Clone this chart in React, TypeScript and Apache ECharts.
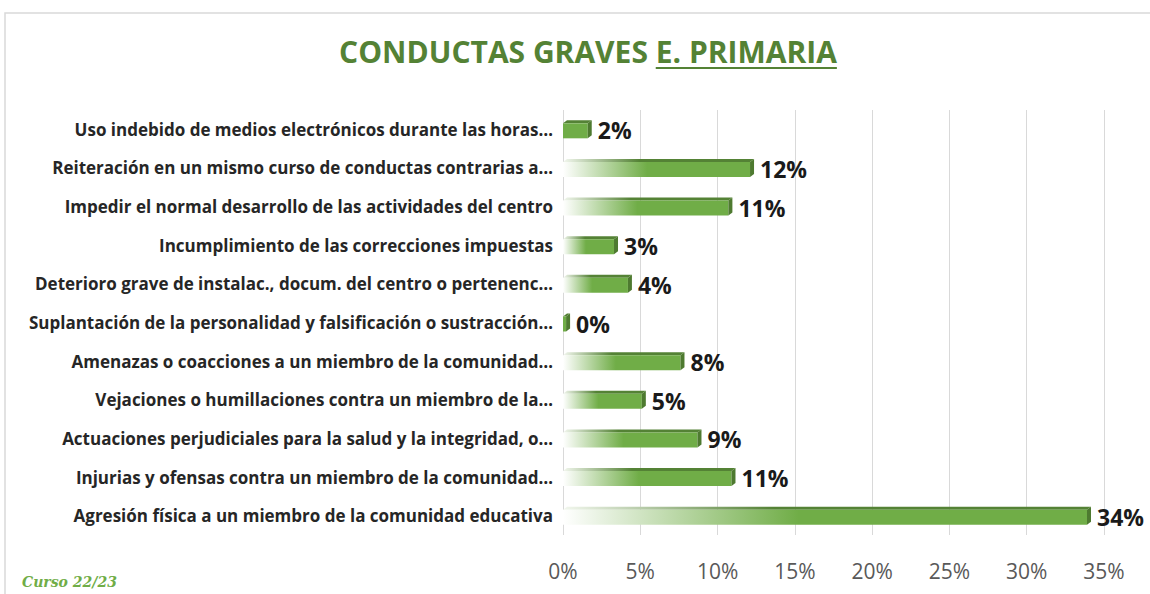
import React, { useEffect, useRef } from "react";
import * as echarts from "echarts";

const categories = [
  "Uso indebido de medios electrónicos durante las horas…",
  "Reiteración en un mismo curso de conductas contrarias a…",
  "Impedir el normal desarrollo de las actividades del centro",
  "Incumplimiento de las correcciones impuestas",
  "Deterioro grave de instalac., docum. del centro o pertenenc…",
  "Suplantación de la personalidad y falsificación o sustracción…",
  "Amenazas o coacciones a un miembro de la comunidad…",
  "Vejaciones o humillaciones contra un miembro de la…",
  "Actuaciones perjudiciales para la salud y la integridad, o…",
  "Injurias y ofensas contra un miembro de la comunidad…",
  "Agresión física a un miembro de la comunidad educativa",
];
const values = [1.6, 12.1, 10.7, 3.3, 4.2, 0.2, 7.6, 5.1, 8.7, 10.9, 33.9];
const titleMain = "CONDUCTAS GRAVES ";
const titleUnder = "E. PRIMARIA";
const footnote = "Curso 22/23";

const FONT = '"Open Sans"';
const GREEN = "#70AD47";
const DARK = "#548235";
const SIDE = "#4E7A30";

function measure(text: string, font: string): number {
  const c = document.createElement("canvas").getContext("2d");
  if (!c) return text.length * 15;
  c.font = font;
  return c.measureText(text).width;
}

export default function App() {
  const ref = useRef<HTMLDivElement>(null);
  useEffect(() => {
    if (!ref.current) return;
    const chart = echarts.init(ref.current, undefined, { renderer: "svg" });
    const titleFont = `bold 30px ${FONT}`;
    const w1 = measure(titleMain, titleFont);
    const w2 = measure(titleUnder, titleFont);
    const titleLeft = 588 - (w1 + w2) / 2;
    const titleY = 51;

    chart.setOption({
      animation: false,
      backgroundColor: "#ffffff",
      grid: { left: 563, right: 46, top: 110, bottom: 59, containLabel: false },
      xAxis: {
        type: "value",
        min: 0,
        max: 35,
        interval: 5,
        axisLine: { show: false },
        axisTick: { show: false },
        axisLabel: {
          formatter: "{value}%",
          fontFamily: "Open Sans",
          fontSize: 21,
          color: "#595959",
          margin: 25,
        },
        splitLine: { lineStyle: { color: "#d9d9d9", width: 1 } },
      },
      yAxis: {
        type: "category",
        data: categories,
        inverse: true,
        axisLine: { show: false },
        axisTick: { show: false },
        axisLabel: {
          fontFamily: "Open Sans",
          fontWeight: "bold",
          fontSize: 17,
          color: "#262626",
          margin: 10,
        },
      },
      graphic: [
        {
          type: "rect",
          shape: { x: 5, y: 13, width: 1160, height: 600 },
          style: { fill: "none", stroke: "#d9d9d9", lineWidth: 1.5 },
          silent: true,
          z: -10,
        },
        {
          type: "text",
          x: titleLeft,
          y: titleY,
          style: {
            text: titleMain,
            font: titleFont,
            fill: DARK,
            textVerticalAlign: "middle",
            textAlign: "left",
          },
        },
        {
          type: "text",
          x: titleLeft + w1,
          y: titleY,
          style: {
            text: titleUnder,
            font: titleFont,
            fill: DARK,
            textVerticalAlign: "middle",
            textAlign: "left",
          },
        },
        {
          type: "line",
          shape: { x1: titleLeft + w1, y1: titleY + 17, x2: titleLeft + w1 + w2, y2: titleY + 17 },
          style: { stroke: DARK, lineWidth: 2 },
        },
        {
          type: "text",
          x: 22,
          y: 582,
          style: {
            text: footnote,
            font: `italic bold 14px "DejaVu Serif"`,
            fill: GREEN,
            textVerticalAlign: "middle",
          },
        },
      ],
      series: [
        {
          type: "custom",
          data: values.map((v, i) => [i, v]),
          encode: { x: 1, y: 0 },
          renderItem: (params: any, api: any) => {
            const idx = api.value(0);
            const v = api.value(1);
            const p0 = api.coord([0, idx]);
            const p1 = api.coord([v, idx]);
            const x0 = p0[0];
            const x1 = Math.max(p1[0], x0 + 1);
            const cy = p0[1];
            const yt = cy - 6;
            const yb = cy + 9;
            const d = 4;
            const dy = 3;
            const len = x1 - x0;
            const front = new echarts.graphic.LinearGradient(0, 0, 1, 0, [
              { offset: 0, color: "#ffffff" },
              { offset: 0.45, color: GREEN },
              { offset: 1, color: GREEN },
            ]);
            const topFill = new echarts.graphic.LinearGradient(0, 0, 1, 0, [
              { offset: 0, color: "#f2f7ee" },
              { offset: 0.4, color: DARK },
              { offset: 1, color: DARK },
            ]);
            return {
              type: "group",
              children: [
                {
                  type: "polygon",
                  shape: {
                    points: [
                      [x0, yt],
                      [x1, yt],
                      [x1 + d, yt - dy],
                      [x0 + d, yt - dy],
                    ],
                  },
                  style: { fill: len > 30 ? topFill : DARK },
                },
                {
                  type: "rect",
                  shape: { x: x0, y: yt, width: len, height: yb - yt },
                  style: { fill: len > 30 ? front : GREEN },
                },
                {
                  type: "polygon",
                  shape: {
                    points: [
                      [x1, yt],
                      [x1 + d, yt - dy],
                      [x1 + d, yb - dy],
                      [x1, yb],
                    ],
                  },
                  style: { fill: SIDE },
                },
                {
                  type: "text",
                  x: x1 + d + 6,
                  y: cy + 1,
                  style: {
                    text: Math.round(v) + "%",
                    font: `bold 23px ${FONT}`,
                    fill: "#1a1a1a",
                    textVerticalAlign: "middle",
                    textAlign: "left",
                  },
                },
              ],
            };
          },
        },
      ],
    });
    return () => chart.dispose();
  }, []);
  return (
    <div
      ref={ref}
      style={{ position: "fixed", left: 0, top: 0, width: 1150, height: 594 }}
    />
  );
}
